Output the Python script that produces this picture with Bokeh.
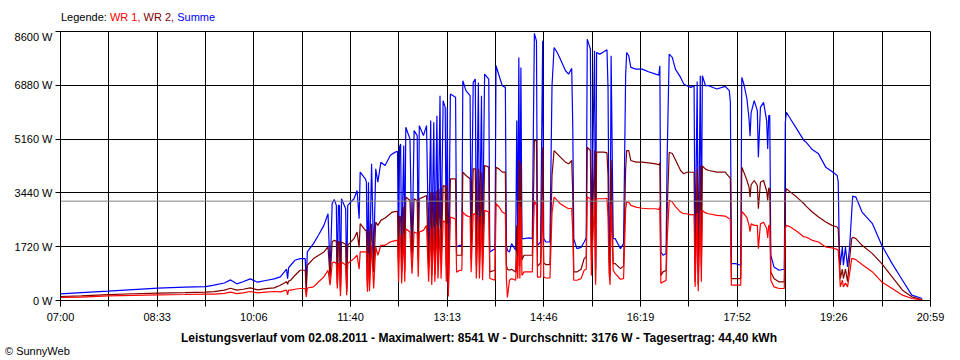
from bokeh.plotting import figure
from bokeh.models import FixedTicker, PrintfTickFormatter, Span, Range1d, Div
from bokeh.layouts import column
from bokeh.embed import file_html
from bokeh.resources import INLINE

# ---- data (minutes after 07:00, power in W) ----
minutes = [0, 20, 46, 70, 94, 120, 140, 148, 158, 164, 170, 176, 183, 190, 198, 206,
           212, 218, 219, 220, 222, 226, 231, 236, 237, 238, 244, 249, 254, 258, 260, 262,
           264, 266, 267, 268, 269, 270, 271, 275, 276, 277, 283, 286, 288, 289, 294, 295,
           296, 297, 298, 300, 302, 304, 306, 309, 313, 318, 320, 324, 325, 326, 327, 328,
           329, 331, 332, 333, 337, 339, 341, 344, 345, 346, 350, 353, 355, 357, 358, 360,
           361, 363, 364, 366, 367, 369, 371, 372, 373, 374, 376, 381, 382, 385, 387, 388,
           391, 395, 396, 398, 400, 401, 403, 404, 406, 407, 409, 413, 414, 419, 420, 423,
           426, 429, 430, 431, 433, 435, 439, 440, 441, 442, 443, 444, 445, 447, 452, 455,
           456, 457, 459, 460, 463, 465, 466, 468, 472, 474, 476, 479, 482, 487, 490, 493,
           494, 495, 498, 502, 505, 507, 508, 511, 512, 515, 516, 517, 520, 524, 527, 528,
           529, 530, 531, 533, 535, 540, 543, 545, 546, 548, 550, 555, 561, 567, 574, 577,
           578, 579, 581, 584, 585, 587, 590, 593, 598, 601, 604, 608, 611, 612, 614, 615,
           617, 618, 619, 622, 625, 633, 641, 645, 646, 647, 651, 656, 657, 659, 662, 664,
           665, 666, 669, 672, 673, 675, 678, 681, 682, 683, 684, 685, 688, 693, 698, 699,
           700, 704, 710, 717, 719, 725, 731, 738, 744, 749, 750, 751, 752, 754, 755, 757,
           759, 761, 763, 764, 767, 773, 783, 792, 802, 812, 821, 831]

summe = [213, 250, 298, 350, 393, 425, 446, 489, 560, 659, 532, 600, 691, 585, 640, 691,
         755, 1000, 700, 1050, 1127, 1286, 1339, 1339, 436, 1552, 1818, 2100, 2402, 2774, 914, 3100,
         3232, 3040, 702, 3040, 3040, 436, 3253, 2934, 383, 3040, 3253, 3518, 2615, 4103, 3891, 3784,
         702, 3784, 861, 4369, 1339, 4210, 3784, 4422, 4316, 4635, 4688, 4762, 4762, 1339, 4900, 5007,
         1446, 4954, 1500, 5538, 5166, 1552, 5432, 5272, 1446, 5591, 5272, 5591, 1765, 5751, 1552, 5698,
         1446, 5910, 1765, 6548, 1765, 6389, 6176, 1500, 6176, 383, 6601, 6495, 1711, 1765, 1765, 7026,
         6708, 6548, 1871, 6973, 7079, 1765, 6973, 1765, 6548, 1711, 7238, 7079, 1552, 1658, 7505, 7185,
         6867, 6814, 1765, 1600, 1552, 1820, 1605, 5751, 1850, 7771, 1900, 7450, 1977, 1977, 2000, 1977,
         5379, 8541, 8302, 1765, 1870, 8302, 1977, 1871, 1871, 6867, 8090, 7930, 7718, 7345, 7238, 7420,
         5591, 1967, 1658, 1700, 1871, 2000, 8355, 8037, 2083, 7983, 1000, 7930, 7877, 7951, 8015, 6814,
         2190, 1300, 7824, 1977, 1977, 1658, 1818, 7185, 7930, 7824, 7451, 7398, 7398, 7313, 7238, 7207,
         7505, 1552, 1446, 1500, 4500, 7877, 7771, 7398, 7132, 6920, 6867, 6814, 6867, 1339, 7000, 900,
         7185, 1800, 7185, 6867, 6867, 6761, 6846, 6708, 6336, 1180, 1180, 1127, 7132, 6920, 6442, 5804,
         5250, 6000, 6389, 6070, 4582, 6176, 6336, 5751, 4847, 5910, 5910, 1446, 1074, 967, 1000, 5698,
         6017, 5804, 5485, 5113, 5060, 4826, 4688, 4263, 4125, 3997, 3800, 1765, 1127, 1711, 1127, 1711,
         1074, 1711, 2828, 3338, 3306, 2828, 2456, 1765, 1180, 648, 170, 64]

wr2 = [128, 150, 191, 215, 234, 250, 266, 285, 330, 393, 330, 360, 404, 340, 380, 404,
       489, 600, 520, 620, 648, 800, 967, 967, 276, 1127, 1339, 1450, 1552, 1711, 702, 1880,
       1924, 1900, 489, 1880, 1870, 300, 1871, 1800, 276, 1765, 1977, 2190, 1700, 2455, 2243, 2243,
       450, 2243, 600, 2455, 900, 2509, 2400, 2562, 2636, 2774, 2828, 2849, 2849, 1180, 2700, 2668,
       914, 3000, 950, 3306, 3200, 1339, 3253, 3200, 1300, 3253, 3306, 3359, 1020, 3465, 810, 3450,
       850, 3519, 1200, 3572, 1339, 3678, 3650, 1100, 3678, 250, 3891, 3891, 1450, 1446, 1446, 4103,
       3997, 3891, 1339, 4210, 4210, 1127, 4210, 1200, 4100, 1100, 4316, 4263, 914, 967, 4263, 4200,
       4103, 4103, 1127, 1000, 967, 1000, 914, 2402, 1100, 4500, 1100, 4400, 1300, 1446, 1446, 1446,
       3000, 5113, 5113, 1100, 1200, 4900, 1200, 1150, 1150, 4000, 4794, 4688, 4582, 4422, 4369, 4475,
       3400, 914, 914, 1000, 1339, 1400, 4900, 4794, 1300, 4794, 600, 4741, 4741, 4741, 4720, 4000,
       1400, 800, 4500, 1180, 1180, 1020, 1100, 4200, 4794, 4794, 4475, 4422, 4422, 4400, 4369, 4340,
       4400, 800, 914, 960, 2800, 4741, 4700, 4500, 4156, 4050, 4100, 4100, 4100, 595, 4200, 500,
       4316, 1100, 4300, 4200, 4156, 4103, 4103, 3944, 3900, 702, 700, 702, 4263, 4103, 3837, 3625,
       3300, 3700, 3837, 3678, 2934, 3780, 3837, 3500, 3200, 3600, 3550, 914, 702, 595, 595, 3400,
       3572, 3465, 3306, 3093, 3019, 2828, 2668, 2509, 2402, 2349, 2300, 1552, 702, 1000, 702, 1000,
       600, 1339, 1977, 2020, 1977, 1765, 1499, 1180, 755, 330, 117, 21]

wr1 = [96, 110, 149, 165, 181, 192, 202, 205, 230, 266, 220, 245, 287, 244, 265, 287,
       276, 330, 180, 330, 330, 360, 383, 383, 117, 400, 436, 600, 755, 967, 489, 1200,
       1233, 1180, 383, 1180, 1170, 136, 1233, 1134, 170, 1180, 1339, 1446, 1000, 1552, 1552, 1552,
       280, 1500, 300, 1765, 383, 1711, 1446, 1765, 1765, 1871, 1892, 1924, 1924, 595, 2000, 2100,
       542, 2100, 600, 2296, 2190, 860, 2190, 2150, 760, 2190, 2243, 2402, 600, 2300, 500, 2350,
       600, 2400, 700, 2300, 700, 2550, 2500, 600, 2450, 130, 2668, 2600, 900, 967, 967, 2828,
       2721, 2668, 900, 2760, 2780, 700, 2721, 700, 2700, 650, 2881, 2828, 702, 648, 3093, 2990,
       2828, 2774, 702, 100, 648, 700, 648, 1400, 700, 3100, 700, 3000, 800, 914, 914, 914,
       2200, 3200, 3040, 750, 750, 3200, 750, 720, 720, 2800, 3306, 3200, 3093, 2987, 2934, 2950,
       2200, 648, 648, 700, 967, 1000, 3306, 3253, 800, 3253, 500, 3253, 3253, 3253, 3270, 2700,
       900, 500, 3100, 967, 861, 680, 700, 2900, 3146, 3146, 3040, 2987, 2950, 2934, 2934, 2910,
       3000, 550, 595, 640, 1900, 3200, 3150, 3000, 2828, 2774, 2774, 2740, 2750, 436, 2800, 300,
       2881, 600, 2880, 2800, 2774, 2721, 2700, 2615, 2600, 489, 489, 489, 2850, 2774, 2650, 2402,
       2200, 2450, 2402, 2402, 1658, 2450, 2500, 2300, 2000, 2400, 2400, 648, 436, 383, 383, 2300,
       2402, 2350, 2211, 2030, 2030, 1924, 1871, 1711, 1680, 1637, 1600, 1127, 436, 650, 436, 560,
       436, 860, 1339, 1339, 1307, 1148, 914, 595, 383, 170, 64, 21]

tick_labels = ["07:00", "08:33", "10:06", "11:40", "13:13", "14:46",
               "16:19", "17:52", "19:26", "20:59"]
day_minutes = 839          # 07:00 .. 20:59
y_ticks = [0, 1720, 3440, 5160, 6880, 8600]
average_w = 3176
max_w = 8541
yield_kwh = "44,40"
date_text = "02.08.2011"
series_names = ["WR 1", "WR 2", "Summe"]
series_colors = ["#ff0000", "#800000", "#0000ff"]

FONT = "Liberation Sans"
FS = "11px"

p = figure(frame_width=870, frame_height=269,
           x_range=Range1d(0, day_minutes), y_range=Range1d(0, 8600),
           output_backend="svg", toolbar_location=None, tools="",
           min_border_left=60, min_border_right=30, min_border_top=1, min_border_bottom=24)
p.background_fill_color = "white"
p.border_fill_color = "white"
p.outline_line_color = "black"

major = [i * day_minutes / 9 for i in range(10)]
minor = [i * day_minutes / 18 for i in range(19)]
p.xaxis.ticker = FixedTicker(ticks=major, minor_ticks=minor)
p.xaxis.major_label_overrides = {t: lab for t, lab in zip(major, tick_labels)}
p.xaxis.major_tick_out = 6
p.xaxis.major_tick_in = 0
p.xaxis.minor_tick_out = 6
p.xaxis.minor_tick_in = 0
p.xaxis.major_label_standoff = 4
p.yaxis.ticker = FixedTicker(ticks=y_ticks)
p.yaxis.formatter = PrintfTickFormatter(format="%d W")
p.yaxis.major_tick_out = 5
p.yaxis.major_tick_in = 0
p.yaxis.minor_tick_out = 0
p.yaxis.minor_tick_in = 0
p.yaxis.major_label_standoff = 3
for ax in (p.xaxis, p.yaxis):
    ax.axis_line_color = "black"
    ax.major_tick_line_color = "black"
    ax.minor_tick_line_color = "black"
    ax.major_label_text_font = FONT
    ax.major_label_text_font_size = FS
    ax.major_label_text_color = "black"

p.xgrid.grid_line_color = "black"
p.xgrid.minor_grid_line_color = "black"
p.ygrid.grid_line_color = "black"

p.line(minutes, summe, color=series_colors[2], line_width=1.2)
p.line(minutes, wr2, color=series_colors[1], line_width=1.2)
p.line(minutes, wr1, color=series_colors[0], line_width=1.2)

p.add_layout(Span(location=average_w, dimension="width", line_color="#808080", line_width=1))

base = f"font-family:'{FONT}';font-size:{FS};color:black;white-space:nowrap;"
legend_html = (f"<div style=\"position:absolute;left:61px;top:10px;{base}\">Legende: "
               f"<span style='color:{series_colors[0]}'>{series_names[0]},</span> "
               f"<span style='color:{series_colors[1]}'>{series_names[1]},</span> "
               f"<span style='color:{series_colors[2]}'>{series_names[2]}</span></div>")
top_div = Div(text=legend_html, width=960, height=30, margin=0)

title = (f"Leistungsverlauf vom {date_text} - Maximalwert: {max_w} W - "
         f"Durchschnitt: {average_w} W - Tagesertrag: {yield_kwh} kWh")
footer_html = (f"<div style=\"position:absolute;left:0px;top:5px;width:958px;text-align:center;"
               f"{base}font-size:12px;font-weight:bold;\">{title}</div>"
               f"<div style=\"position:absolute;left:5px;top:19px;{base}\">\u00a9 SunnyWeb</div>")
bottom_div = Div(text=footer_html, width=960, height=36, margin=0)

layout = column(top_div, p, bottom_div, spacing=0)
open("out.html", "w").write(file_html(layout, INLINE))
